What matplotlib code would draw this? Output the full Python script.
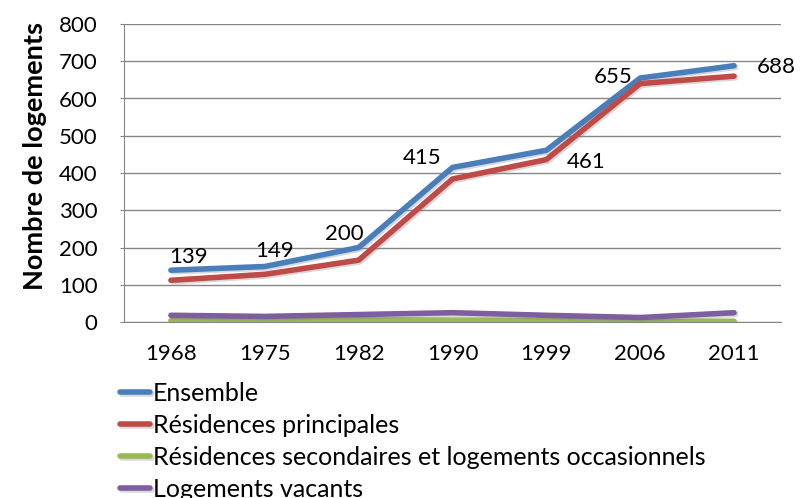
import matplotlib

matplotlib.use("Agg")
import matplotlib.pyplot as plt
import matplotlib.patheffects as pe

years = ["1968", "1975", "1982", "1990", "1999", "2006", "2011"]
ensemble = [139, 149, 200, 415, 461, 655, 688]
principales = [112, 128, 166, 384, 436, 640, 660]
secondaires = [4, 3, 6, 5, 4, 2, 2]
vacants = [18, 15, 20, 25, 18, 12, 25]

series_names = [
    "Ensemble",
    "Résidences principales",
    "Résidences secondaires et logements occasionnels",
    "Logements vacants",
]
colors = ["#4A7EBB", "#BE4B48", "#98B954", "#7D5FA0"]

# label offsets (pixels) for the Ensemble values, Excel-style placement
label_offsets = [(18, 13), (10, 15), (-14, 14), (-30, 9), (40, -12), (-27, 1), (42, -1)]

plt.rcParams["font.family"] = ["Lato", "DejaVu Sans"]

fig = plt.figure(figsize=(8.01, 4.98), dpi=100)
ax = fig.add_axes([124 / 801, 1 - 322 / 498, (781 - 124) / 801, (322 - 24) / 498])

x = list(range(len(years)))
shadow = [pe.SimpleLineShadow(offset=(1.2, -1.2), shadow_color="gray", alpha=0.3), pe.Normal()]
for vals, name, c in zip([ensemble, principales, secondaires, vacants], series_names, colors):
    ax.plot(x, vals, color=c, lw=4, label=name, solid_capstyle="round",
            solid_joinstyle="round", path_effects=shadow)

for xi, v, (dx, dy) in zip(x, ensemble, label_offsets):
    ax.annotate(str(v), (xi, v), xytext=(dx, dy), textcoords="offset pixels",
                ha="center", va="center", fontsize=16, color="black")

ax.set_xlim(-0.5, len(years) - 0.5)
ax.set_ylim(0, 800)
ax.set_yticks(range(0, 801, 100))
ax.set_xticks(x)
ax.set_xticklabels(years)
ax.tick_params(axis="y", labelsize=16, length=3, color="#868686", pad=16)
ax.tick_params(axis="x", labelsize=16, length=0, pad=16)
ax.grid(axis="y", color="#868686", lw=1)
ax.set_axisbelow(True)
for s in ["top", "right"]:
    ax.spines[s].set_visible(False)
for s in ["left", "bottom"]:
    ax.spines[s].set_color("#868686")
fig.text(35 / 801, 1 - 156 / 498, "Nombre de logements", rotation=90,
         ha="center", va="center", fontsize=19.5, fontweight="bold")

leg = fig.legend(*ax.get_legend_handles_labels(), loc="upper left",
                 bbox_to_anchor=(120 / 801, 1 - 382 / 498), frameon=False,
                 fontsize=18, handlelength=1.2, handletextpad=0.12,
                 labelspacing=0.36, borderpad=0, borderaxespad=0)

fig.savefig("out.png", dpi=100)
